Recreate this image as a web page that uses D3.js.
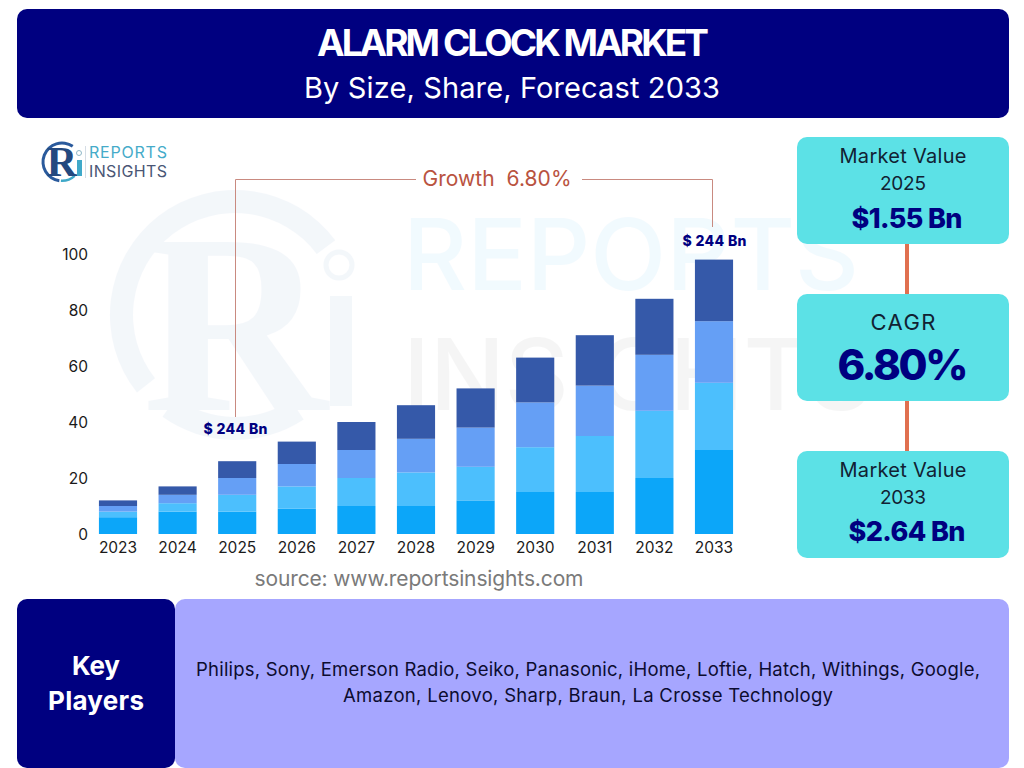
<!DOCTYPE html>
<html>
<head>
  <meta charset="utf-8">
  <title>Alarm Clock Market</title>
  <script src="https://cdn.jsdelivr.net/npm/d3@7"></script>
  <style>
    html, body { margin: 0; padding: 0; background: #fff; }
    svg { display: block; }
    text { font-family: "Inter", "Noto Sans", sans-serif; }
  </style>
</head>
<body>
<div id="chart"></div>
<script>
// values
var years = ["2023","2024","2025","2026","2027","2028","2029","2030","2031","2032","2033"];
var seriesNames = ["s1","s2","s3","s4"];
var s1 = [6, 8, 8, 9, 10, 10, 12, 15, 15, 20, 30];
var s2 = [2, 3, 6, 8, 10, 12, 12, 16, 20, 24, 24];
var s3 = [2, 3, 6, 8, 10, 12, 14, 16, 18, 20, 22];
var s4 = [2, 3, 6, 8, 10, 12, 14, 16, 18, 20, 22];
var yTicks = [0, 20, 40, 60, 80, 100];
var barColors = ["#0ca6f9", "#4cbffd", "#659ff5", "#3559a9"];
var playersLines = [
  "Philips, Sony, Emerson Radio, Seiko, Panasonic, iHome, Loftie, Hatch, Withings, Google,",
  "Amazon, Lenovo, Sharp, Braun, La Crosse Technology"
];

var navy = "#000080", cyan = "#5ce1e6", lavender = "#a6a6ff", orange = "#e07050";

var svg = d3.select("#chart").append("svg").attr("width", 1024).attr("height", 768);

function label(x, y, str, size, weight, fill, anchor, width) {
  var t = svg.append("text")
    .attr("x", x).attr("y", y)
    .attr("font-size", size)
    .attr("font-weight", weight)
    .attr("fill", fill)
    .attr("text-anchor", anchor || "middle")
    .text(str);
  // Poppins is not installed, so fit to the measured width
  if (width) t.attr("textLength", width).attr("lengthAdjust", "spacing");
  return t;
}

function box(x, y, w, h, r, fill) {
  svg.append("rect").attr("x", x).attr("y", y).attr("width", w).attr("height", h)
    .attr("rx", r).attr("fill", fill);
}

/* pale watermark behind the chart */
var wm = svg.append("g").attr("opacity", 0.05).attr("fill", "#2f6fb5");
wm.append("path")
  .attr("d", d3.arc()({ innerRadius: 102, outerRadius: 125, startAngle: -2.24, endAngle: 0.93 }))
  .attr("transform", "translate(235,315)");
wm.append("path")
  .attr("d", d3.arc()({ innerRadius: 102, outerRadius: 125, startAngle: 2.56, endAngle: 3.76 }))
  .attr("transform", "translate(235,315)");
wm.append("text").attr("x", 235).attr("y", 410).attr("text-anchor", "middle")
  .attr("font-size", 256).style("font-family", "Liberation Serif").attr("font-weight", 700).text("R");
wm.append("rect").attr("x", 330).attr("y", 296).attr("width", 22).attr("height", 110);
wm.append("circle").attr("cx", 339).attr("cy", 265).attr("r", 13).attr("fill", "none")
  .attr("stroke", "#2f6fb5").attr("stroke-width", 5);
wm.append("text").attr("x", 403).attr("y", 290).attr("font-size", 99).attr("font-weight", 500)
  .attr("fill", "#0ca6f9").text("REPORTS");
wm.append("text").attr("x", 403).attr("y", 410).attr("font-size", 99).attr("font-weight", 500)
  .attr("fill", "#555").text("INSIGHTS");

/* header */
box(17, 9, 992, 109, 10, navy);
label(513, 56, "ALARM CLOCK MARKET", 37, 700, "#fff", "middle", 392);
label(512, 98, "By Size, Share, Forecast 2033", 29, 400, "#fff", "middle", 416);

/* logo */
var logo = svg.append("g");
logo.append("path")
  .attr("d", d3.arc()({ innerRadius: 17.5, outerRadius: 20.5, startAngle: -3.0, endAngle: 0.6 }))
  .attr("transform", "translate(62,162)").attr("fill", "#2a5a9c");
logo.append("path")
  .attr("d", d3.arc()({ innerRadius: 17.5, outerRadius: 20, startAngle: 2.4, endAngle: 3.2 }))
  .attr("transform", "translate(62,162)").attr("fill", "#3fa9c9");
logo.append("text").attr("x", 62).attr("y", 176).attr("text-anchor", "middle").attr("font-size", 42)
  .attr("font-weight", 700).attr("fill", "#24497f").style("font-family", "Liberation Serif").text("R");
logo.append("rect").attr("x", 77).attr("y", 160).attr("width", 5).attr("height", 16).attr("fill", "#3fa9c9");
logo.append("circle").attr("cx", 79).attr("cy", 153).attr("r", 2.5).attr("fill", "#fff")
  .attr("stroke", "#8fb8c8").attr("stroke-width", 1);
logo.append("rect").attr("x", 85).attr("y", 146).attr("width", 1).attr("height", 32).attr("fill", "#d5dde5");
label(89, 158, "REPORTS", 16, 400, "#45abc9", "start", 78);
label(89, 177, "INSIGHTS", 16, 400, "#4a5675", "start", 78);

/* chart */
var x = d3.scaleBand().domain(years).range([88.2, 743.8]).paddingInner(0.36).paddingOuter(0.18);
var y = d3.scaleLinear().domain([0, 100]).range([534, 254]);

var rows = years.map(function (yr, i) {
  return { year: yr, s1: s1[i], s2: s2[i], s3: s3[i], s4: s4[i] };
});
var stacked = d3.stack().keys(seriesNames)(rows);

svg.append("g").selectAll("g").data(stacked).enter().append("g")
  .attr("fill", function (d, i) { return barColors[i]; })
  .selectAll("rect").data(function (d) { return d; }).enter().append("rect")
  .attr("x", function (d) { return x(d.data.year); })
  .attr("y", function (d) { return y(d[1]); })
  .attr("width", x.bandwidth())
  .attr("height", function (d) { return y(d[0]) - y(d[1]); });

var xAxis = svg.append("g").attr("transform", "translate(0,534)")
  .call(d3.axisBottom(x).tickSize(0).tickPadding(8));
xAxis.select(".domain").remove();
xAxis.selectAll("text").attr("font-size", 15.5).attr("fill", "#1a1a1a")
  .style("font-family", "Inter");

var yAxis = svg.append("g").attr("transform", "translate(88,0)")
  .call(d3.axisLeft(y).tickValues(yTicks).tickSize(0).tickPadding(0));
yAxis.select(".domain").remove();
yAxis.selectAll("text").attr("font-size", 15.5).attr("fill", "#1a1a1a").attr("dy", "0.38em")
  .style("font-family", "Inter");

/* growth bracket */
svg.append("path").attr("fill", "none").attr("stroke", "#c98a80").attr("stroke-width", 1)
  .attr("d", "M235.5,417V179.5H416");
svg.append("path").attr("fill", "none").attr("stroke", "#c98a80").attr("stroke-width", 1)
  .attr("d", "M582,179.5H712.5V227");
label(497, 186, "Growth  6.80%", 21, 400, "#b9533f", "middle", 149).style("white-space", "pre");

label(235.5, 434, "$ 244 Bn", 14, 800, navy, "middle", 64);
label(714.5, 246, "$ 244 Bn", 14, 800, navy, "middle", 64);

label(419, 586, "source: www.reportsinsights.com", 21, 400, "#7a7a7a", "middle", 329);

/* right panel */
svg.append("rect").attr("x", 905).attr("y", 240).attr("width", 4).attr("height", 58).attr("fill", orange);
svg.append("rect").attr("x", 905).attr("y", 397).attr("width", 4).attr("height", 58).attr("fill", orange);
box(797, 137, 212, 107, 10, cyan);
box(797, 294, 212, 107, 10, cyan);
box(797, 451, 212, 107, 10, cyan);

label(903, 163, "Market Value", 20, 400, "#123", "middle", 127);
label(903, 190, "2025", 19, 400, "#123", "middle", 46);
label(907, 228, "$1.55 Bn", 27, 800, navy, "middle", 111);
label(903, 330, "CAGR", 22, 400, "#123", "middle", 65);
label(903, 380, "6.80%", 42, 800, navy, "middle", 131);
label(903, 477, "Market Value", 20, 400, "#123", "middle", 127);
label(903, 504, "2033", 19, 400, "#123", "middle", 46);
label(907, 541, "$2.64 Bn", 27, 800, navy, "middle", 117);

/* key players */
box(17, 599, 158, 169, 10, navy);
box(175, 599, 834, 169, 10, lavender);
label(96, 675, "Key", 26, 700, "#fff", "middle", 48);
label(96, 710, "Players", 26, 700, "#fff", "middle", 96);
label(588, 676, playersLines[0], 18.5, 400, "#0c0c30", "middle", 784);
label(588, 702, playersLines[1], 18.5, 400, "#0c0c30", "middle", 490);
</script>
</body>
</html>
